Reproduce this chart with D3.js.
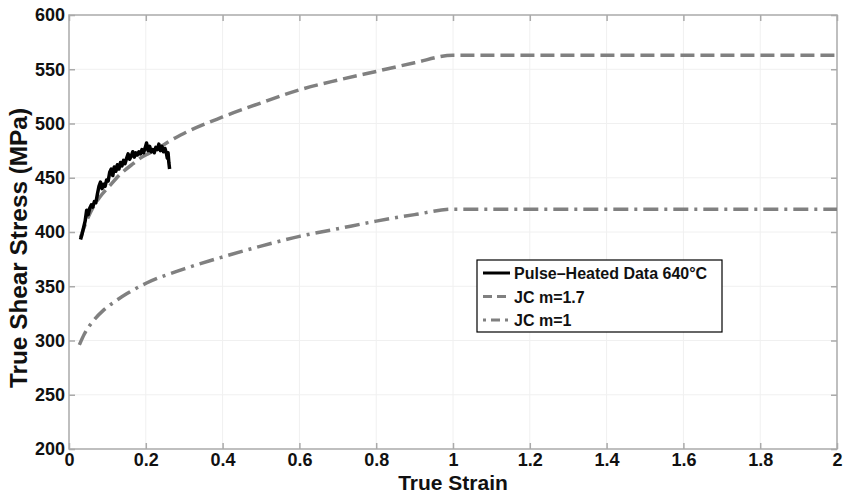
<!DOCTYPE html>
<html>
<head>
<meta charset="utf-8">
<script src="https://cdn.jsdelivr.net/npm/d3@7"></script>
<style>
  body { margin: 0; background: #fff; }
  text { font-family: "Liberation Sans", Arial, sans-serif; font-weight: bold; fill: #111; }
</style>
</head>
<body>
<script>
//chart values
var xTicks = [0, 0.2, 0.4, 0.6, 0.8, 1, 1.2, 1.4, 1.6, 1.8, 2];
var yTicks = [200, 250, 300, 350, 400, 450, 500, 550, 600];

//Johnson-Cook fits
var jc17Strain = [0.03, 0.04, 0.063, 0.08, 0.107, 0.13, 0.167, 0.19, 0.228, 0.258, 0.30, 0.40, 0.50, 0.60, 0.70, 0.80, 0.90, 1.0, 2.0];
var jc17Stress = [395, 405, 423, 432, 443, 452, 463, 469, 476, 483, 491, 506, 519, 531, 540, 548, 556, 563, 563];
var jc1Strain = [0.027, 0.04, 0.063, 0.09, 0.124, 0.15, 0.202, 0.30, 0.40, 0.50, 0.60, 0.70, 0.80, 0.90, 1.0, 2.0];
var jc1Stress = [296, 306, 318, 328, 337, 343, 353, 366, 377, 387, 396, 403, 410, 416, 421, 421];

//pulse-heated test data
var dataStrain = [0.030, 0.034, 0.038, 0.042, 0.046, 0.050, 0.054, 0.058, 0.062, 0.066,
    0.070, 0.074, 0.078, 0.082, 0.086, 0.090, 0.094, 0.098, 0.102, 0.106,
    0.110, 0.114, 0.118, 0.122, 0.126, 0.130, 0.134, 0.138, 0.142, 0.146,
    0.150, 0.154, 0.158, 0.162, 0.166, 0.170, 0.174, 0.178, 0.182, 0.186,
    0.190, 0.194, 0.198, 0.202, 0.206, 0.210, 0.214, 0.218, 0.222, 0.226,
    0.230, 0.234, 0.238, 0.242, 0.246, 0.250, 0.254, 0.256, 0.258, 0.260, 0.262];
var dataStress = [393, 398, 404, 410, 420, 416, 422, 425, 423, 428,
    427, 435, 442, 446, 440, 444, 442, 448, 447, 455,
    458, 452, 460, 456, 462, 458, 464, 461, 466, 463,
    468, 472, 467, 470, 474, 469, 473, 471, 474, 472,
    476, 473, 477, 482, 475, 479, 474, 476, 473, 478,
    476, 481, 475, 479, 474, 477, 472, 468, 473, 464, 458];

var legendLabels = ["Pulse\u2013Heated Data 640\u00B0C", "JC m=1.7", "JC m=1"];

window.onload = function(){
    var w = 843, h = 493;
    var left = 69, right = 837, top = 15, bottom = 449;

    var svg = d3.select("body").append("svg")
        .attr("width", w)
        .attr("height", h);

    var x = d3.scaleLinear().domain([0, 2]).range([left, right]);
    var y = d3.scaleLinear().domain([200, 600]).range([bottom, top]);

    //faint grid
    var grid = svg.append("g").attr("class", "grid");
    grid.selectAll(".gx").data(xTicks.slice(1, -1)).enter().append("line")
        .attr("x1", function(d){ return x(d); })
        .attr("x2", function(d){ return x(d); })
        .attr("y1", top).attr("y2", bottom)
        .style("stroke", "#f0f0f0");
    grid.selectAll(".gy").data(yTicks.slice(1, -1)).enter().append("line")
        .attr("y1", function(d){ return y(d); })
        .attr("y2", function(d){ return y(d); })
        .attr("x1", left).attr("x2", right)
        .style("stroke", "#f0f0f0");

    //axes, ticks pointing inward like a matlab box
    var axisColor = "#aaa";
    function styleAxis(g){
        g.select(".domain").remove();
        g.selectAll(".tick line").style("stroke", axisColor).style("stroke-width", 1.5);
    }
    svg.append("g")
        .attr("transform", "translate(0," + bottom + ")")
        .call(d3.axisBottom(x).tickValues(xTicks).tickSize(-6).tickPadding(4).tickFormat(d3.format("")))
        .call(styleAxis)
        .selectAll("text").attr("font-size", 18).style("font-family", "Liberation Sans, Arial, sans-serif").attr("fill", "#111");
    svg.append("g")
        .attr("transform", "translate(0," + top + ")")
        .call(d3.axisTop(x).tickValues(xTicks).tickSize(-6).tickFormat(""))
        .call(styleAxis);
    svg.append("g")
        .attr("transform", "translate(" + left + ",0)")
        .call(d3.axisLeft(y).tickValues(yTicks).tickSize(-6).tickPadding(4))
        .call(styleAxis)
        .selectAll("text").attr("font-size", 18).style("font-family", "Liberation Sans, Arial, sans-serif").attr("fill", "#111");
    svg.append("g")
        .attr("transform", "translate(" + right + ",0)")
        .call(d3.axisRight(y).tickValues(yTicks).tickSize(-6).tickFormat(""))
        .call(styleAxis);

    //box
    svg.append("rect")
        .attr("x", left).attr("y", top)
        .attr("width", right - left).attr("height", bottom - top)
        .style("fill", "none")
        .style("stroke", axisColor)
        .style("stroke-width", 1.5);

    var line = d3.line()
        .x(function(d){ return x(d[0]); })
        .y(function(d){ return y(d[1]); });
    var curve = d3.line()
        .curve(d3.curveMonotoneX)
        .x(function(d){ return x(d[0]); })
        .y(function(d){ return y(d[1]); });

    //JC m=1.7
    svg.append("path")
        .datum(d3.zip(jc17Strain, jc17Stress))
        .attr("d", curve)
        .style("fill", "none")
        .style("stroke", "#808080")
        .style("stroke-width", 3.5)
        .style("stroke-dasharray", "14,6");

    //JC m=1
    svg.append("path")
        .datum(d3.zip(jc1Strain, jc1Stress))
        .attr("d", curve)
        .style("fill", "none")
        .style("stroke", "#808080")
        .style("stroke-width", 3.5)
        .style("stroke-dasharray", "15,6,3,6");

    //data
    svg.append("path")
        .datum(d3.zip(dataStrain, dataStress))
        .attr("d", line)
        .style("fill", "none")
        .style("stroke", "#000")
        .style("stroke-width", 3.5)
        .style("stroke-linejoin", "round");

    //axis titles
    svg.append("text")
        .attr("x", (left + right) / 2)
        .attr("y", 490)
        .attr("text-anchor", "middle")
        .attr("font-size", 21)
        .text("True Strain");
    svg.append("text")
        .attr("transform", "translate(27,248) rotate(-90)")
        .attr("text-anchor", "middle")
        .attr("font-size", 23)
        .attr("textLength", 280)
        .attr("lengthAdjust", "spacingAndGlyphs")
        .text("True Shear Stress (MPa)");

    //legend
    var legend = svg.append("g").attr("class", "legend");
    legend.append("rect")
        .attr("x", 477).attr("y", 260)
        .attr("width", 245).attr("height", 72)
        .style("fill", "#fff")
        .style("stroke", "#000")
        .style("stroke-width", 1.2);
    var styles = [
        { color: "#000", dash: null },
        { color: "#808080", dash: "9,5" },
        { color: "#808080", dash: "3,5,9,5" }
    ];
    var rows = legend.selectAll(".row").data(legendLabels).enter().append("g")
        .attr("transform", function(d, i){ return "translate(0," + (273 + i * 23.5) + ")"; });
    rows.append("line")
        .attr("x1", 483).attr("x2", 510)
        .attr("y1", 0).attr("y2", 0)
        .style("stroke", function(d, i){ return styles[i].color; })
        .style("stroke-width", 3)
        .style("stroke-dasharray", function(d, i){ return styles[i].dash; });
    rows.append("text")
        .attr("x", 514)
        .attr("y", 6)
        .attr("font-size", 16)
        .text(function(d){ return d; });
};
</script>
</body>
</html>
